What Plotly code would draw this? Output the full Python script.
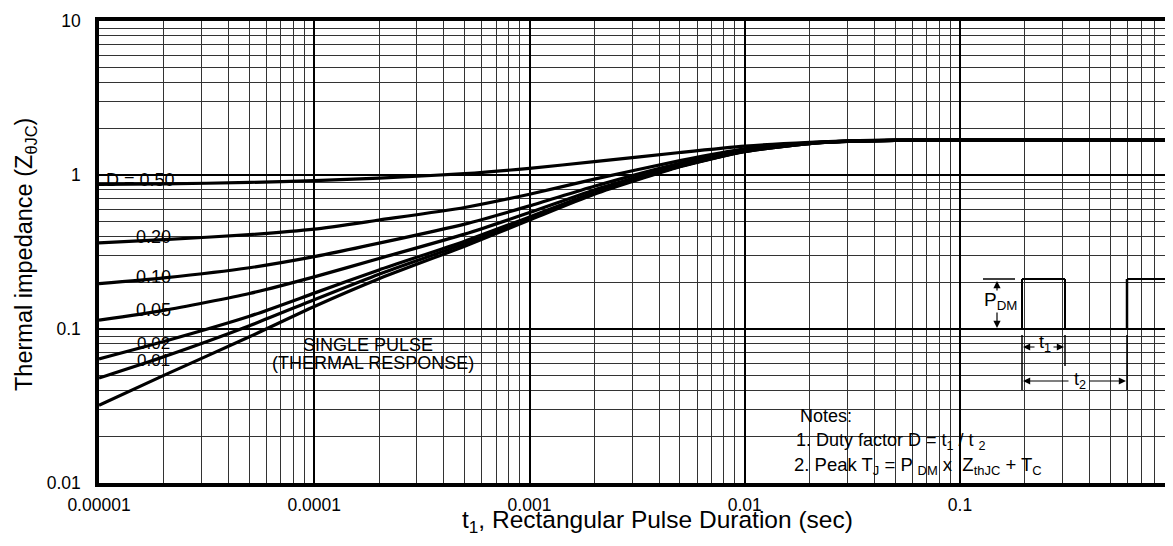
import plotly.graph_objects as go

# ---------------- data ----------------
t_sec = [1e-5, 2e-5, 5e-5, 1e-4, 2e-4, 5e-4, 1e-3, 2e-3, 5e-3, 1e-2, 2e-2, 3e-2, 5e-2, 1e-1, 1.0]
z_single = [0.032, 0.050, 0.089, 0.14, 0.212, 0.345, 0.51, 0.75, 1.13, 1.42, 1.6, 1.65, 1.68, 1.69, 1.69]
z_d001 = [0.048, 0.066, 0.105, 0.155, 0.227, 0.358, 0.52, 0.76, 1.14, 1.42, 1.6, 1.65, 1.68, 1.69, 1.69]
z_d002 = [0.064, 0.083, 0.121, 0.171, 0.242, 0.372, 0.534, 0.77, 1.14, 1.43, 1.6, 1.65, 1.68, 1.69, 1.69]
z_d005 = [0.114, 0.132, 0.17, 0.218, 0.287, 0.413, 0.57, 0.80, 1.16, 1.44, 1.61, 1.66, 1.68, 1.69, 1.69]
z_d010 = [0.197, 0.215, 0.25, 0.295, 0.361, 0.48, 0.63, 0.845, 1.19, 1.45, 1.61, 1.66, 1.68, 1.69, 1.69]
z_d020 = [0.362, 0.38, 0.41, 0.445, 0.51, 0.615, 0.75, 0.94, 1.24, 1.48, 1.62, 1.66, 1.685, 1.69, 1.69]
z_d050 = [0.868, 0.875, 0.895, 0.918, 0.955, 1.02, 1.105, 1.22, 1.40, 1.54, 1.63, 1.665, 1.685, 1.69, 1.69]

series = [z_d050, z_d020, z_d010, z_d005, z_d002, z_d001, z_single]
series_names = ["D = 0.50", "0.20", "0.10", "0.05", "0.02", "0.01", "Single pulse"]

x_tickvals = [1e-5, 1e-4, 1e-3, 1e-2, 1e-1]
x_ticktext = ["0.00001", "0.0001", "0.001", "0.01", "0.1"]
y_tickvals = [0.01, 0.1, 1, 10]
y_ticktext = ["0.01", "0.1", "1", "10"]
x_minor = [k * 10.0 ** e for e in range(-5, 1) for k in range(2, 10)]
y_minor = [k * 10.0 ** e for e in range(-2, 1) for k in range(2, 10)]

# ---------------- layout geometry ----------------
BODY = 8                       # default page margin of the html body
W, H = 1173 - BODY, 546 - 2 * BODY
PL, PR, PT, PB = 99, 1173, 21, 483   # plot area in page pixels
ML, MT = PL - BODY, PT - BODY
MR = W - (PR - BODY)
MB = H - (PB - BODY)
PW, PH = PR - PL, PB - PT
DEC_PX = 215.25
FONT = "Arial, 'Liberation Sans', Helvetica, sans-serif"


def px(xp):
    return (xp - PL) / PW


def py(yp):
    return (PB - yp) / PH


fig = go.Figure()
for ys, nm in zip(series, series_names):
    fig.add_trace(go.Scatter(x=t_sec, y=ys, mode="lines", name=nm,
                             line=dict(color="black", width=3.2, shape="spline", smoothing=0.6),
                             showlegend=False, hoverinfo="skip"))

annotations = []


def txt(x, y, s, size=18, xanchor="center", **kw):
    annotations.append(dict(x=px(x), y=py(y), xref="paper", yref="paper", text=s,
                            xanchor=xanchor, yanchor="middle",
                            showarrow=False, font=dict(family=FONT, size=size, color="black"), **kw))


# curve labels
txt(140, 180, "D = 0.50")
txt(153, 237, "0.20")
txt(153, 277, "0.10")
txt(153, 310, "0.05")
txt(153, 343, "0.02", size=17)
txt(153, 360, "0.01", size=17)
txt(368, 345, "SINGLE PULSE")
txt(373, 363, "(THERMAL RESPONSE)")

# notes
txt(798, 416, "Notes:", size=18, xanchor="left")
txt(794, 441, "1. Duty factor D = t<sub>1</sub> / t <sub>2</sub>", size=18, xanchor="left")
txt(792, 466, "2. Peak T<sub>J</sub> = P <sub>DM</sub> x  Z<sub>thJC</sub> + T<sub>C</sub>", size=18.5, xanchor="left")

# pulse diagram labels
txt(1001, 301, "P<sub>DM</sub>", size=19)
txt(1045, 344, "t<sub>1</sub>", size=18)
txt(1080, 380, "t<sub>2</sub>", size=18)

# axis titles
txt(25, 255, "Thermal impedance (Z<sub>θJC</sub>)", size=23.5, textangle=-90)
txt(657, 521, "t<sub>1</sub>, Rectangular Pulse Duration (sec)", size=24.5)


def arrow(x_head, y_head, x_tail, y_tail):
    annotations.append(dict(x=px(x_head), y=py(y_head), xref="paper", yref="paper",
                            ax=x_tail - x_head, ay=y_tail - y_head, axref="pixel", ayref="pixel",
                            text="", showarrow=True, arrowhead=2, arrowsize=1.2,
                            arrowwidth=1.2, arrowcolor="black", standoff=0, startstandoff=0))


arrow(1023, 347, 1036, 347)
arrow(1064, 347, 1052, 347)
arrow(1023, 381, 1070, 381)
arrow(1126, 381, 1088, 381)
arrow(997, 281, 997, 292)
arrow(997, 328, 997, 311)

shapes = []


def seg(x0, y0, x1, y1, w=1.5):
    shapes.append(dict(type="line", xref="paper", yref="paper", x0=px(x0), y0=py(y0),
                       x1=px(x1), y1=py(y1), line=dict(color="black", width=w), layer="above"))


# pulse train
seg(978, 329, 1173, 329, 2)
seg(1022, 329, 1022, 279, 2)
seg(1022, 279, 1065, 279, 2)
seg(1065, 279, 1065, 329, 2)
seg(1127, 329, 1127, 279, 2.5)
seg(1127, 279, 1173, 279, 2)
seg(983, 279, 1015, 279, 1.5)
# dimension ticks
seg(1022, 335, 1022, 390, 1.5)
seg(1065, 335, 1065, 366, 1.5)
seg(1127, 335, 1127, 390, 1.5)

fig.update_layout(
    width=W, height=H,
    margin=dict(l=ML, r=MR, t=MT, b=MB, pad=0),
    paper_bgcolor="white", plot_bgcolor="white",
    font=dict(family=FONT, size=17, color="black"),
    annotations=annotations, shapes=shapes,
    showlegend=False,
)
fig.update_xaxes(type="log", range=[-5, -5 + PW / DEC_PX],
                 tickvals=x_tickvals, ticktext=x_ticktext,
                 showgrid=True, gridcolor="black", gridwidth=2,
                 minor=dict(tickmode="array", tickvals=x_minor, showgrid=True,
                            gridcolor="#333333", gridwidth=1, ticks=""),
                 showline=True, linecolor="black", linewidth=3.5, mirror=True,
                 ticks="", ticklabelstandoff=3, zeroline=False,
                 tickfont=dict(family=FONT, size=17.5, color="black"))
fig.update_yaxes(type="log", range=[-2, 1],
                 tickvals=y_tickvals, ticktext=y_ticktext,
                 showgrid=True, gridcolor="black", gridwidth=2,
                 minor=dict(tickmode="array", tickvals=y_minor, showgrid=True,
                            gridcolor="#333333", gridwidth=1, ticks=""),
                 showline=True, linecolor="black", linewidth=3.5, mirror=False,
                 ticks="", ticklabelstandoff=11, zeroline=False,
                 tickfont=dict(family=FONT, size=17.5, color="black"))

fig.write_html("out.html")
